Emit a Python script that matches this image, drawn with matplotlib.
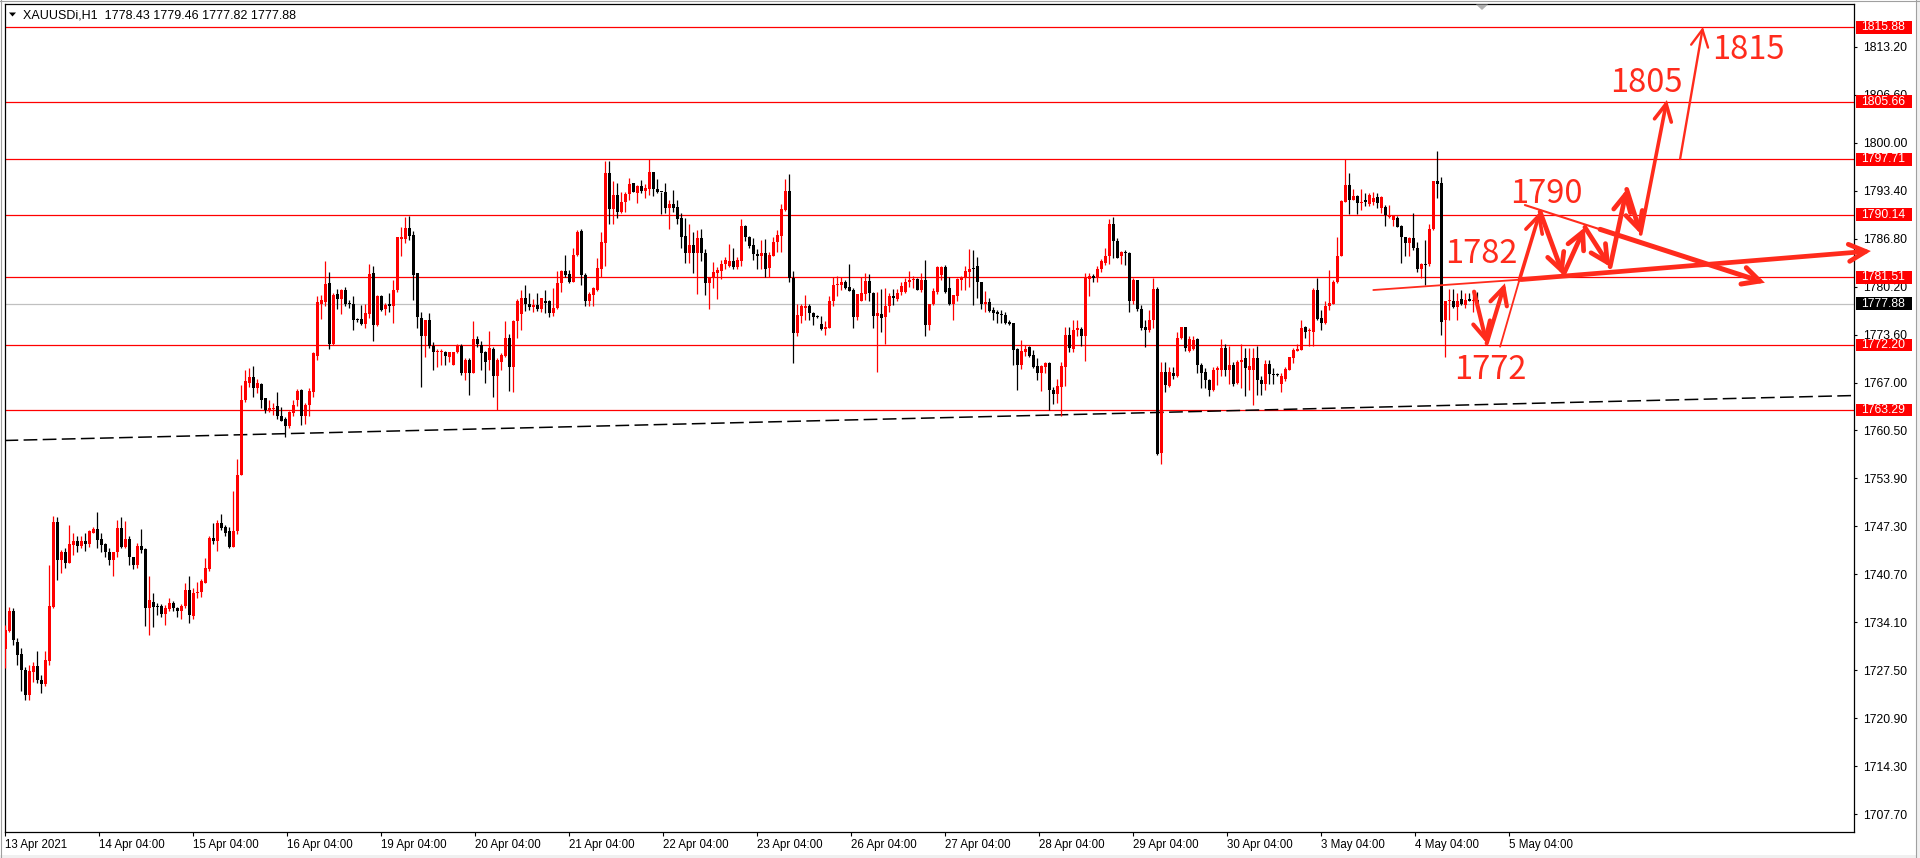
import matplotlib
matplotlib.use("Agg")
import matplotlib.pyplot as plt
from matplotlib.patches import Polygon, Rectangle

# XAUUSDi H1 candles (bar index 0 .. 368)
opens = [
    1730.4, 1732.9, 1735.7, 1731.4, 1729.7, 1727.5, 1724.1, 1727.3, 1728.1, 1726.2,
    1725.6, 1728.8, 1736.2, 1747.9, 1742.7, 1743.7, 1742.3, 1744.7, 1745.2, 1744.6,
    1745.3, 1744.9, 1746.4, 1746.9, 1745.5, 1744.9, 1743.7, 1742.6, 1743.7, 1747.1,
    1744.5, 1745.5, 1743.1, 1742.0, 1744.6, 1744.2, 1736.0, 1736.9, 1736.3, 1736.3,
    1735.3, 1735.9, 1736.8, 1736.0, 1735.7, 1736.3, 1738.5, 1735.0, 1738.1, 1738.2,
    1739.5, 1741.4, 1745.7, 1745.3, 1747.7, 1747.2, 1746.6, 1744.5, 1746.6, 1754.3,
    1764.6, 1767.0, 1767.8, 1766.3, 1766.8, 1764.9, 1763.3, 1763.4, 1763.8, 1762.4,
    1762.0, 1761.1, 1762.9, 1764.6, 1766.0, 1762.4, 1763.9, 1765.8, 1770.7, 1777.9,
    1778.1, 1780.7, 1772.4, 1779.2, 1778.5, 1779.8, 1778.0, 1777.9, 1775.7, 1775.8,
    1775.1, 1776.5, 1782.1, 1774.9, 1778.9, 1777.1, 1777.8, 1777.5, 1779.7, 1786.8,
    1786.8, 1788.3, 1787.3, 1782.1, 1775.9, 1773.5, 1775.6, 1772.1, 1771.2, 1771.2,
    1771.3, 1770.6, 1769.5, 1771.2, 1772.0, 1768.4, 1770.2, 1768.4, 1773.0, 1772.2,
    1771.3, 1770.1, 1771.7, 1768.0, 1769.9, 1770.7, 1773.2, 1769.2, 1775.5, 1776.5,
    1778.6, 1777.9, 1777.4, 1777.7, 1777.2, 1778.3, 1778.3, 1776.6, 1777.3, 1780.7,
    1782.4, 1782.0, 1780.9, 1784.6, 1787.9, 1781.8, 1778.2, 1779.1, 1779.8, 1782.7,
    1786.2, 1795.8, 1790.9, 1792.8, 1790.5, 1791.8, 1792.9, 1794.5, 1793.1, 1794.0,
    1793.4, 1793.7, 1796.0, 1793.7, 1793.3, 1793.3, 1791.1, 1791.6, 1791.2, 1789.6,
    1787.2, 1784.8, 1786.0, 1784.9, 1786.9, 1784.8, 1780.7, 1781.5, 1782.1, 1782.4,
    1783.4, 1783.1, 1783.8, 1782.9, 1783.8, 1788.6, 1787.1, 1786.0, 1784.7, 1784.5,
    1784.8, 1782.8, 1784.4, 1786.3, 1787.2, 1790.8, 1793.4, 1781.4, 1773.9, 1776.2,
    1777.3, 1777.5, 1776.6, 1776.2, 1775.1, 1774.4, 1774.5, 1778.2, 1780.4, 1780.4,
    1780.9, 1780.2, 1779.8, 1776.0, 1778.3, 1779.2, 1781.0, 1779.4, 1776.2, 1776.5,
    1776.1, 1777.5, 1778.9, 1778.5, 1779.5, 1779.5, 1780.8, 1781.1, 1781.3, 1779.8,
    1781.1, 1774.9, 1777.8, 1779.5, 1781.8, 1782.9, 1780.0, 1777.9, 1779.0, 1781.1,
    1781.4, 1782.3, 1782.7, 1783.1, 1780.9, 1777.9, 1778.1, 1777.0, 1776.7, 1776.5,
    1776.3, 1775.4, 1775.2, 1771.6, 1769.4, 1771.3, 1771.9, 1770.8, 1769.3, 1768.3,
    1769.2, 1769.7, 1766.0, 1765.5, 1766.4, 1769.2, 1773.6, 1771.6, 1774.2, 1774.4,
    1773.4, 1781.3, 1781.7, 1781.5, 1782.6, 1783.5, 1784.4, 1788.8, 1786.5, 1784.4,
    1785.0, 1784.9, 1778.2, 1781.1, 1777.1, 1774.7, 1774.2, 1775.6, 1779.9, 1757.4,
    1768.5, 1766.6, 1768.4, 1767.9, 1773.1, 1774.7, 1771.4, 1771.6, 1773.0, 1769.5,
    1768.5, 1767.4, 1766.0, 1768.7, 1768.7, 1771.8, 1768.8, 1769.5, 1767.0, 1769.8,
    1770.4, 1768.8, 1768.8, 1770.4, 1767.4, 1766.9, 1769.6, 1768.2, 1768.2, 1766.9,
    1767.6, 1768.8, 1770.4, 1771.4, 1771.5, 1774.7, 1774.1, 1774.0, 1779.7, 1775.9,
    1775.2, 1777.5, 1777.9, 1780.8, 1784.4, 1791.9, 1794.2, 1792.2, 1792.7, 1791.7,
    1792.2, 1791.6, 1791.8, 1792.5, 1791.1, 1791.2, 1789.8, 1789.4, 1789.6, 1788.5,
    1787.0, 1786.2, 1786.9, 1785.6, 1782.6, 1783.4, 1783.3, 1788.2, 1794.8, 1794.5,
    1775.6, 1778.2, 1778.3, 1777.4, 1778.5, 1777.7, 1778.5, 1778.3, 1778.43,
]
highs = [
    1733.7, 1736.2, 1736.0, 1732.0, 1730.5, 1728.0, 1728.2, 1728.7, 1730.1, 1726.9,
    1730.1, 1742.0, 1748.7, 1748.6, 1744.0, 1744.3, 1747.5, 1746.4, 1746.0, 1745.9,
    1746.3, 1746.8, 1747.2, 1749.3, 1746.3, 1745.0, 1744.3, 1743.8, 1748.2, 1748.6,
    1748.0, 1745.9, 1743.1, 1745.0, 1746.9, 1744.3, 1740.4, 1738.1, 1736.8, 1736.6,
    1736.5, 1737.4, 1737.0, 1736.2, 1736.6, 1739.5, 1740.4, 1738.8, 1739.6, 1740.0,
    1742.9, 1745.9, 1747.7, 1748.2, 1749.0, 1747.5, 1747.2, 1752.2, 1756.5, 1766.7,
    1768.8, 1769.0, 1769.3, 1767.6, 1767.0, 1764.9, 1764.6, 1764.2, 1765.8, 1763.7,
    1762.3, 1763.2, 1764.6, 1766.1, 1766.1, 1764.2, 1766.3, 1771.2, 1778.9, 1779.1,
    1783.8, 1782.3, 1779.3, 1779.9, 1779.9, 1780.2, 1778.4, 1778.9, 1775.9, 1777.7,
    1777.9, 1783.4, 1783.0, 1779.1, 1779.1, 1778.0, 1779.4, 1781.2, 1787.1, 1788.4,
    1789.8, 1789.9, 1787.9, 1782.1, 1776.7, 1775.7, 1776.6, 1772.6, 1771.6, 1771.6,
    1771.4, 1771.2, 1771.3, 1772.3, 1772.4, 1770.4, 1770.4, 1775.5, 1773.4, 1772.8,
    1771.4, 1774.1, 1771.9, 1770.4, 1771.1, 1775.5, 1773.7, 1775.6, 1778.5, 1779.8,
    1780.4, 1779.4, 1778.5, 1779.3, 1778.7, 1779.8, 1778.4, 1780.0, 1782.4, 1782.5,
    1784.6, 1782.5, 1785.6, 1788.0, 1788.2, 1782.1, 1779.5, 1780.2, 1784.1, 1787.8,
    1797.5, 1797.5, 1794.7, 1794.5, 1793.3, 1793.3, 1795.2, 1794.5, 1794.2, 1794.9,
    1794.3, 1797.7, 1796.0, 1795.0, 1793.3, 1794.5, 1792.1, 1793.5, 1792.1, 1790.4,
    1789.6, 1788.8, 1787.8, 1788.0, 1788.1, 1785.4, 1781.6, 1783.6, 1782.9, 1783.9,
    1784.3, 1786.1, 1785.5, 1784.3, 1789.5, 1788.7, 1787.2, 1786.9, 1785.4, 1786.6,
    1786.8, 1785.0, 1787.1, 1788.0, 1791.6, 1795.0, 1795.7, 1782.4, 1777.9, 1777.9,
    1779.1, 1777.8, 1776.8, 1776.3, 1776.2, 1775.5, 1778.9, 1781.6, 1781.7, 1781.6,
    1781.1, 1783.3, 1780.0, 1779.2, 1781.6, 1782.1, 1781.9, 1779.5, 1779.5, 1779.9,
    1780.1, 1779.4, 1779.9, 1779.9, 1780.8, 1781.4, 1782.4, 1781.7, 1781.4, 1782.1,
    1783.9, 1777.9, 1780.0, 1783.1, 1783.1, 1783.2, 1781.6, 1779.1, 1781.4, 1781.7,
    1783.1, 1785.4, 1785.3, 1784.3, 1780.9, 1779.6, 1778.6, 1777.4, 1777.0, 1777.0,
    1776.8, 1775.6, 1775.2, 1771.8, 1772.9, 1772.2, 1772.0, 1771.5, 1770.4, 1769.5,
    1769.9, 1769.8, 1766.4, 1767.6, 1769.8, 1774.7, 1774.7, 1775.6, 1775.6, 1774.7,
    1782.1, 1782.1, 1781.9, 1783.1, 1784.0, 1785.5, 1789.5, 1789.8, 1786.9, 1785.1,
    1785.3, 1785.0, 1781.4, 1781.1, 1777.7, 1775.6, 1777.0, 1781.4, 1780.2, 1769.8,
    1769.8, 1769.2, 1769.2, 1774.0, 1774.7, 1774.7, 1773.4, 1773.4, 1773.1, 1769.7,
    1769.0, 1767.5, 1769.2, 1769.3, 1773.0, 1772.4, 1772.1, 1769.8, 1770.2, 1772.3,
    1771.8, 1771.8, 1771.8, 1772.1, 1768.0, 1770.2, 1770.2, 1769.0, 1768.3, 1768.3,
    1769.2, 1770.6, 1771.8, 1772.4, 1775.6, 1774.8, 1774.5, 1780.0, 1781.4, 1777.0,
    1778.2, 1782.5, 1781.1, 1787.0, 1792.2, 1797.7, 1795.9, 1793.7, 1792.8, 1793.7,
    1793.1, 1793.1, 1793.3, 1793.1, 1792.7, 1791.5, 1791.5, 1790.1, 1789.9, 1788.7,
    1787.0, 1787.1, 1790.3, 1786.4, 1783.5, 1786.6, 1788.8, 1794.8, 1798.9, 1795.3,
    1778.3, 1779.9, 1779.9, 1779.4, 1779.8, 1779.4, 1779.4, 1779.8, 1779.46,
]
lows = [
    1727.8, 1732.8, 1731.0, 1728.2, 1724.6, 1723.4, 1723.4, 1725.9, 1725.7, 1724.4,
    1725.3, 1728.2, 1736.0, 1739.9, 1740.8, 1741.5, 1742.2, 1743.3, 1743.8, 1744.3,
    1743.9, 1744.5, 1746.3, 1744.3, 1743.7, 1743.1, 1742.0, 1740.5, 1743.1, 1744.3,
    1744.3, 1741.9, 1741.4, 1741.5, 1743.6, 1733.6, 1732.4, 1733.5, 1735.1, 1734.8,
    1733.7, 1735.6, 1735.7, 1734.8, 1734.6, 1736.0, 1734.0, 1734.5, 1737.5, 1737.6,
    1739.5, 1741.2, 1744.9, 1743.9, 1746.8, 1745.9, 1744.3, 1744.5, 1746.2, 1754.3,
    1764.4, 1766.5, 1765.1, 1765.6, 1763.5, 1762.8, 1763.0, 1762.6, 1762.1, 1761.7,
    1759.5, 1760.8, 1762.5, 1763.8, 1761.2, 1761.4, 1762.5, 1765.1, 1770.1, 1775.8,
    1777.5, 1771.7, 1772.2, 1777.1, 1776.5, 1777.5, 1777.3, 1774.2, 1775.3, 1775.0,
    1774.6, 1775.9, 1772.8, 1774.8, 1776.9, 1776.3, 1776.8, 1775.2, 1779.5, 1784.4,
    1786.2, 1786.6, 1778.4, 1774.6, 1766.5, 1770.6, 1771.8, 1768.7, 1769.2, 1769.5,
    1769.5, 1769.8, 1769.4, 1771.1, 1768.1, 1767.4, 1765.3, 1768.3, 1771.9, 1768.7,
    1767.0, 1768.8, 1765.0, 1763.3, 1768.8, 1770.6, 1765.9, 1765.8, 1773.2, 1774.3,
    1776.9, 1777.0, 1776.8, 1776.9, 1776.8, 1776.6, 1776.0, 1776.2, 1777.1, 1779.5,
    1781.6, 1780.7, 1780.8, 1784.4, 1780.5, 1777.6, 1777.6, 1777.5, 1779.6, 1781.6,
    1783.1, 1788.8, 1788.8, 1789.7, 1790.4, 1790.5, 1792.2, 1793.2, 1791.7, 1793.1,
    1792.4, 1792.8, 1792.7, 1793.1, 1790.2, 1790.4, 1788.1, 1790.5, 1788.9, 1785.5,
    1783.5, 1783.5, 1782.1, 1779.2, 1783.7, 1779.1, 1777.2, 1780.1, 1778.5, 1781.3,
    1782.6, 1782.9, 1782.7, 1782.7, 1783.1, 1786.5, 1785.6, 1783.9, 1782.6, 1782.7,
    1781.6, 1781.6, 1784.4, 1785.0, 1785.0, 1790.6, 1780.8, 1769.7, 1773.4, 1775.2,
    1775.6, 1775.6, 1775.0, 1775.9, 1774.3, 1773.6, 1774.5, 1777.6, 1778.9, 1779.8,
    1779.9, 1779.6, 1774.6, 1775.7, 1778.2, 1778.4, 1778.3, 1774.6, 1768.5, 1774.0,
    1772.3, 1776.8, 1777.7, 1778.3, 1779.1, 1779.3, 1780.2, 1780.1, 1779.8, 1779.5,
    1773.4, 1774.3, 1777.7, 1779.2, 1781.1, 1779.3, 1777.7, 1775.6, 1778.2, 1779.8,
    1779.8, 1780.2, 1777.7, 1778.6, 1777.2, 1776.8, 1776.8, 1775.6, 1775.2, 1775.2,
    1775.1, 1775.0, 1769.5, 1766.0, 1768.9, 1770.7, 1770.6, 1769.0, 1767.4, 1765.9,
    1768.3, 1763.3, 1764.1, 1764.3, 1762.4, 1766.6, 1771.2, 1771.2, 1773.4, 1772.1,
    1770.0, 1778.9, 1780.9, 1780.9, 1782.3, 1783.2, 1783.4, 1784.2, 1784.1, 1783.3,
    1783.2, 1776.8, 1777.9, 1776.9, 1774.3, 1771.9, 1774.0, 1774.6, 1757.1, 1755.9,
    1765.8, 1766.4, 1767.5, 1767.8, 1773.0, 1771.4, 1771.3, 1771.5, 1768.4, 1766.3,
    1766.3, 1765.2, 1765.9, 1766.7, 1768.0, 1768.0, 1766.9, 1766.6, 1766.9, 1766.3,
    1765.2, 1766.0, 1764.0, 1765.3, 1765.3, 1766.0, 1766.9, 1766.9, 1768.0, 1765.8,
    1767.2, 1768.7, 1769.7, 1771.4, 1771.5, 1773.1, 1772.1, 1772.1, 1775.6, 1774.3,
    1775.1, 1777.0, 1777.8, 1780.7, 1784.4, 1791.9, 1790.2, 1792.1, 1790.2, 1790.7,
    1791.3, 1791.3, 1791.5, 1791.0, 1790.4, 1788.6, 1789.6, 1788.6, 1788.4, 1783.5,
    1784.4, 1784.4, 1785.3, 1782.3, 1781.4, 1780.5, 1783.0, 1788.0, 1792.4, 1773.6,
    1770.5, 1775.7, 1777.3, 1775.6, 1777.7, 1777.3, 1778.2, 1776.7, 1777.82,
]
closes = [
    1733.0, 1735.7, 1731.6, 1729.6, 1727.5, 1724.1, 1727.4, 1728.1, 1726.2, 1725.6,
    1728.9, 1736.3, 1747.9, 1742.7, 1743.7, 1742.3, 1744.9, 1745.2, 1744.6, 1745.2,
    1744.9, 1746.6, 1746.9, 1745.4, 1744.7, 1743.7, 1742.6, 1743.7, 1747.1, 1744.5,
    1745.5, 1743.1, 1742.0, 1744.6, 1744.0, 1736.0, 1737.1, 1736.2, 1736.2, 1735.3,
    1736.0, 1736.7, 1736.0, 1735.7, 1736.4, 1738.5, 1735.1, 1738.1, 1738.3, 1739.7,
    1741.5, 1745.7, 1745.3, 1747.7, 1747.1, 1746.4, 1744.5, 1746.6, 1754.3, 1764.6,
    1767.2, 1767.8, 1766.3, 1767.0, 1764.7, 1763.3, 1763.6, 1763.6, 1762.4, 1761.8,
    1761.1, 1763.0, 1764.0, 1765.9, 1762.4, 1764.0, 1765.9, 1771.1, 1778.1, 1778.4,
    1780.6, 1772.4, 1779.1, 1778.5, 1779.8, 1777.9, 1777.8, 1775.6, 1775.6, 1775.1,
    1776.6, 1782.0, 1774.9, 1778.9, 1777.0, 1777.7, 1777.5, 1779.8, 1787.0, 1787.0,
    1788.3, 1787.2, 1781.8, 1776.0, 1773.5, 1775.6, 1772.0, 1771.2, 1771.4, 1771.4,
    1770.7, 1771.2, 1771.2, 1772.0, 1768.4, 1770.2, 1768.4, 1773.0, 1772.3, 1771.1,
    1769.9, 1771.8, 1768.0, 1770.1, 1770.8, 1773.2, 1769.2, 1775.5, 1778.2, 1778.6,
    1777.8, 1777.4, 1777.7, 1777.2, 1778.6, 1778.0, 1776.6, 1777.3, 1780.7, 1782.4,
    1781.8, 1780.9, 1784.6, 1787.8, 1781.8, 1778.2, 1779.2, 1780.0, 1782.8, 1786.3,
    1795.8, 1790.9, 1792.8, 1790.5, 1791.9, 1793.0, 1794.3, 1793.3, 1794.0, 1793.4,
    1793.8, 1796.0, 1793.7, 1793.2, 1793.2, 1791.1, 1791.6, 1791.1, 1789.5, 1787.1,
    1784.8, 1786.0, 1784.9, 1786.9, 1784.8, 1780.7, 1781.6, 1782.2, 1782.5, 1783.4,
    1783.9, 1783.8, 1782.9, 1783.9, 1788.6, 1787.0, 1785.8, 1784.7, 1784.5, 1784.8,
    1782.7, 1784.6, 1786.3, 1787.3, 1790.9, 1793.4, 1781.4, 1773.9, 1776.3, 1777.5,
    1777.5, 1776.6, 1776.1, 1776.0, 1774.4, 1774.7, 1778.3, 1780.5, 1780.5, 1780.9,
    1780.1, 1779.6, 1776.0, 1779.2, 1779.3, 1781.0, 1779.3, 1776.2, 1776.6, 1775.9,
    1777.6, 1778.9, 1778.6, 1779.4, 1780.3, 1780.9, 1781.1, 1781.3, 1779.8, 1781.1,
    1774.9, 1777.8, 1779.6, 1782.9, 1782.9, 1779.5, 1777.9, 1779.1, 1781.3, 1781.5,
    1782.4, 1782.7, 1782.6, 1780.8, 1777.9, 1778.1, 1776.9, 1776.6, 1776.4, 1776.3,
    1775.2, 1775.1, 1771.5, 1769.5, 1771.4, 1771.6, 1770.7, 1769.2, 1768.3, 1769.3,
    1769.7, 1766.0, 1765.5, 1766.6, 1769.3, 1773.6, 1771.8, 1774.3, 1774.5, 1773.4,
    1781.6, 1781.7, 1781.4, 1782.7, 1783.8, 1784.4, 1788.8, 1786.5, 1784.2, 1785.0,
    1784.8, 1778.2, 1781.1, 1777.1, 1774.6, 1774.2, 1775.7, 1779.9, 1757.2, 1768.5,
    1766.7, 1768.5, 1767.9, 1773.1, 1774.7, 1771.8, 1773.0, 1772.9, 1769.5, 1768.4,
    1767.4, 1766.0, 1768.7, 1769.1, 1771.8, 1768.7, 1769.5, 1766.9, 1769.9, 1770.2,
    1769.1, 1769.3, 1770.4, 1767.4, 1766.9, 1769.6, 1768.2, 1768.1, 1768.1, 1767.9,
    1768.9, 1770.5, 1771.5, 1771.6, 1774.6, 1774.0, 1774.2, 1779.7, 1775.8, 1775.2,
    1777.6, 1778.0, 1780.8, 1784.4, 1792.0, 1794.2, 1792.2, 1792.7, 1791.7, 1791.9,
    1791.8, 1792.8, 1792.4, 1791.7, 1792.5, 1790.1, 1790.1, 1790.0, 1788.4, 1787.0,
    1786.2, 1786.9, 1785.5, 1782.7, 1783.4, 1783.2, 1788.2, 1794.8, 1794.4, 1775.4,
    1778.3, 1778.4, 1777.4, 1778.2, 1777.8, 1778.4, 1778.2, 1778.4, 1777.88,
]

# horizontal levels drawn on the chart, and the bid line
levels = [1815.88, 1805.66, 1797.71, 1790.14, 1781.51, 1772.20, 1763.29]
bid = 1777.88
# dashed trend line (start / end price)
trend_prices = [1759.08, 1765.26]

# price scale on the right
price_ticks = [1813.20, 1806.60, 1800.00, 1793.40, 1786.80, 1780.20, 1773.60, 1767.00,
               1760.50, 1753.90, 1747.30, 1740.70, 1734.10, 1727.50, 1720.90, 1714.30, 1707.70]

# time scale labels
time_labels = ["13 Apr 2021", "14 Apr 04:00", "15 Apr 04:00", "16 Apr 04:00", "19 Apr 04:00",
               "20 Apr 04:00", "21 Apr 04:00", "22 Apr 04:00", "23 Apr 04:00", "26 Apr 04:00",
               "27 Apr 04:00", "28 Apr 04:00", "29 Apr 04:00", "30 Apr 04:00", "3 May 04:00",
               "4 May 04:00", "5 May 04:00"]

# hand drawn forecast (bar index, price)
zigzag = [(383.7, 1790.52), (389.5, 1781.82), (394.9, 1788.38), (401.2, 1782.96),
          (405.35, 1793.6), (408.85, 1787.46), (415.4, 1805.87)]
forecast_texts = [("1815", 426.7, 1811.5), ("1805", 401.2, 1806.97), ("1790", 376.2, 1791.72),
                  ("1782", 359.9, 1783.47), ("1772", 362.2, 1767.53)]

W, H = 1920, 858
RED = "#ff0000"
PEN = "#ff2b1c"
FONT = "Liberation Sans"

fig = plt.figure(figsize=(W / 100, H / 100), dpi=100)
fig.patch.set_facecolor("white")
ax = fig.add_axes([4.5 / W, (H - 832.3) / H, (1854.3 - 4.5) / W, (832.3 - 4.3) / H])
ax.set_xlim(-0.2, 462.25)
ax.set_ylim(1705.23, 1819.03)

# levels
for lv in levels:
    ax.axhline(lv, color=RED, lw=0.9, zorder=1)
ax.axhline(bid, color="#c0c0c0", lw=0.9, zorder=1)
ax.plot([-0.2, 462.25], trend_prices, color="black", lw=1.1, dashes=(9, 3.5), zorder=1)

# candles
n = len(closes)
idx = list(range(n))
cols = [RED if closes[i] >= opens[i] else "black" for i in idx]
ax.vlines(idx, lows, highs, colors=cols, lw=0.9, zorder=3)
bottoms = [min(opens[i], closes[i]) for i in idx]
heights = [max(abs(closes[i] - opens[i]), 0.14) for i in idx]
ax.bar(idx, heights, bottom=bottoms, width=0.72, color=cols, linewidth=0, zorder=3)

# frame and scales
for s in ax.spines.values():
    s.set_linewidth(0.9)
    s.set_color("black")
ax.yaxis.tick_right()
ax.set_yticks(price_ticks, [f"{p:.2f}" for p in price_ticks])
ax.tick_params(axis="y", direction="out", length=2.5, width=0.8, pad=3.5,
               labelsize=8.7, labelcolor="black")
tick_pos = [23.5 * k for k in range(len(time_labels))]
ax.set_xticks(tick_pos, time_labels, ha="left")
ax.tick_params(axis="x", direction="out", length=3, width=0.8, pad=1.5,
               labelsize=8.3, labelcolor="black")
for lab in ax.get_xticklabels() + ax.get_yticklabels():
    lab.set_fontfamily(FONT)

# price tags on the scale (box 1856..1912 px, 12.7 px tall)
def tag(value, colour):
    yc = ax.transData.transform((0, value))[1] / H
    fig.add_artist(Rectangle((1856 / W, yc - 6.35 / H), 56 / W, 12.7 / H, fc=colour,
                             ec="none", transform=fig.transFigure, zorder=6))
    fig.text(1861.5 / W, yc, f"{value:.2f}", fontsize=8.7, family=FONT, color="white",
             ha="left", va="center", zorder=7)

for lv in levels:
    tag(lv, RED)
tag(bid, "black")

# forecast drawing
def arrow(p0, p1, lw, head=True):
    ax.annotate("", xy=p1, xytext=p0, annotation_clip=False,
                arrowprops=dict(arrowstyle="->,head_length=0.55,head_width=0.28" if head else "-",
                                color=PEN, lw=lw, shrinkA=0, shrinkB=0,
                                mutation_scale=22, capstyle="round", joinstyle="miter"))

# neckline: thin then thick, running past the scale
ax.plot([342.0, 379.0], [1779.76, 1781.2], color=PEN, lw=1.3, solid_capstyle="round",
        clip_on=False, zorder=7)
arrow((379.0, 1781.2), (466.4, 1785.12), 3.4)
# upper falling line
ax.plot([379.9, 398.7], [1791.44, 1788.1], color=PEN, lw=1.5, solid_capstyle="round", zorder=7)
arrow((398.7, 1788.1), (439.9, 1780.76), 3.6)
# small dip and bounce
arrow((367.2, 1779.53), (370.35, 1772.44), 3.0)
arrow((370.35, 1772.44), (374.9, 1780.68), 3.0)
# leg up to 1790
ax.plot([373.7, 378.5], [1771.97, 1781.1], color=PEN, lw=1.3, solid_capstyle="round", zorder=7)
arrow((378.5, 1781.1), zigzag[0], 2.6)
for a, b in zip(zigzag[:-2], zigzag[1:-1]):
    arrow(a, b, 3.4)
arrow(zigzag[-2], zigzag[-1], 2.6)
# last leg to 1815
arrow((418.7, 1797.77), (424.4, 1815.91), 1.7)

for txt, x, y in forecast_texts:
    ax.text(x, y, txt, fontsize=23.5, color=PEN, family="Noto Sans CJK SC",
            ha="left", va="baseline", zorder=8, clip_on=False)

# symbol line in the corner
fig.text(23 / W, (H - 19) / H, "XAUUSDi,H1  1778.43 1779.46 1777.82 1777.88",
         fontsize=9.0, family=FONT, color="black", va="baseline", ha="left")
fig.add_artist(Polygon([(9 / W, (H - 12.5) / H), (16 / W, (H - 12.5) / H),
                        (12.5 / W, (H - 16.5) / H)], closed=True, fc="black", ec="none",
                       transform=fig.transFigure))
# chart shift marker
fig.add_artist(Polygon([(1476 / W, (H - 4.5) / H), (1488 / W, (H - 4.5) / H),
                        (1482 / W, (H - 10) / H)], closed=True, fc="#b0b0b0", ec="none",
                       transform=fig.transFigure))

# window borders
fig.add_artist(Rectangle((0, 0), 1, 3.5 / H, fc="#f0f0f0", ec="none", transform=fig.transFigure))
fig.add_artist(Rectangle((1915.5 / W, 0), 4.5 / W, 1, fc="#f0f0f0", ec="none",
                         transform=fig.transFigure))
fig.add_artist(plt.Line2D([1915.5 / W, 1915.5 / W], [0, 1], color="#a0a0a0", lw=0.8,
                          transform=fig.transFigure))
fig.add_artist(plt.Line2D([0.5 / W, 0.5 / W], [0, 1], color="#a0a0a0", lw=0.8,
                          transform=fig.transFigure))
fig.add_artist(plt.Line2D([0, 1], [1 - 0.5 / H, 1 - 0.5 / H], color="#a0a0a0", lw=0.8,
                          transform=fig.transFigure))

fig.savefig("out.png", dpi=100, facecolor="white")
